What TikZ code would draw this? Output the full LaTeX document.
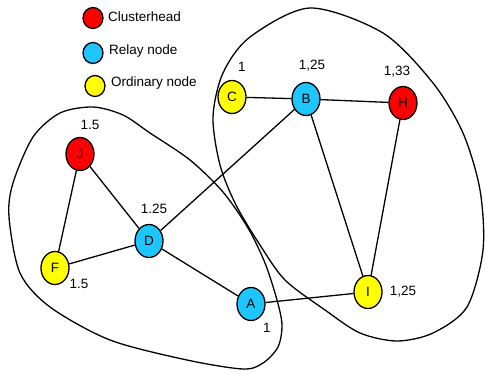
\documentclass[tikz,border=0pt]{standalone}
\usepackage{fontspec}
\setmainfont{Liberation Sans}
\usetikzlibrary{shapes.geometric}
\definecolor{chred}{RGB}{255,0,0}
\definecolor{relayblue}{RGB}{30,198,255}
\definecolor{ordyellow}{RGB}{255,255,0}
\tikzset{
  nd/.style={ellipse, draw=black, line width=1.3pt, minimum width=28pt, minimum height=33pt, inner sep=0pt, font=\fontsize{13.5}{15}\selectfont},
  lg/.style={ellipse, draw=black, line width=1.3pt, minimum width=20pt, minimum height=21pt, inner sep=0pt},
  lbl/.style={inner sep=0pt, font=\fontsize{13.5}{15}\selectfont},
  lgt/.style={inner sep=0pt, anchor=west, font=\fontsize{13.5}{15}\selectfont},
  edge/.style={line width=1.3pt},
  loop/.style={line width=1.3pt}
}
\begin{document}
\begin{tikzpicture}[x=1pt,y=-1pt]
\useasboundingbox (0,0) rectangle (485,373);
% legend
\node[lg, fill=chred] (L1) at (93,18) {};
\node[lgt] (T1) at (108,17) {Clusterhead};
\node[lg, fill=relayblue] (L2) at (93,53) {};
\node[lgt] (T2) at (109,51) {Relay node};
\node[lg, fill=ordyellow] (L3) at (95,86) {};
\node[lgt] (T3) at (111,83) {Ordinary node};
% loops
\draw[loop] plot[smooth cycle] coordinates {(93,107) (123,115) (150,133) (190,160) (223,192) (248,228) (265,263) (277,300) (282,325) (278,347) (263,363) (243,369) (187,360) (110,340) (50,307) (20,273) (9,217) (13,183) (33,137) (60,113)};
\draw[loop] plot[smooth cycle] coordinates {(310,8) (383,33) (433,83) (463,133) (480,190) (483,250) (467,307) (433,333) (397,341) (360,333) (325,310) (285,280) (260,245) (236,205) (220,165) (213,117) (223,73) (250,37)};
% nodes
\node[nd, fill=ordyellow] (C) at (232,97) {C};
\node[nd, fill=relayblue] (B) at (306,99) {B};
\node[nd, fill=chred] (H) at (403,103) {H};
\node[nd, fill=chred] (J) at (80,154) {J};
\node[nd, fill=relayblue] (D) at (149,241) {D};
\node[nd, fill=ordyellow] (F) at (55,268) {F};
\node[nd, fill=relayblue] (A) at (251,304) {A};
\node[nd, fill=ordyellow] (I) at (368,292) {I};
% edges
\draw[edge] (J) -- (F);
\draw[edge] (J) -- (D);
\draw[edge] (F) -- (D);
\draw[edge] (D) -- (A);
\draw[edge] (D) -- (B);
\draw[edge] (C) -- (B);
\draw[edge] (B) -- (H);
\draw[edge] (B) -- (I);
\draw[edge] (H) -- (I);
\draw[edge] (A) -- (I);
% weights
\node[lbl] (wC) at (242,67) {1};
\node[lbl] (wB) at (312,66) {1,25};
\node[lbl] (wH) at (397,72) {1,33};
\node[lbl] (wJ) at (90,125) {1.5};
\node[lbl] (wD) at (154,209) {1.25};
\node[lbl] (wF) at (79,284) {1.5};
\node[lbl] (wA) at (267,328) {1};
\node[lbl] (wI) at (403,292) {1,25};
\end{tikzpicture}
\end{document}
